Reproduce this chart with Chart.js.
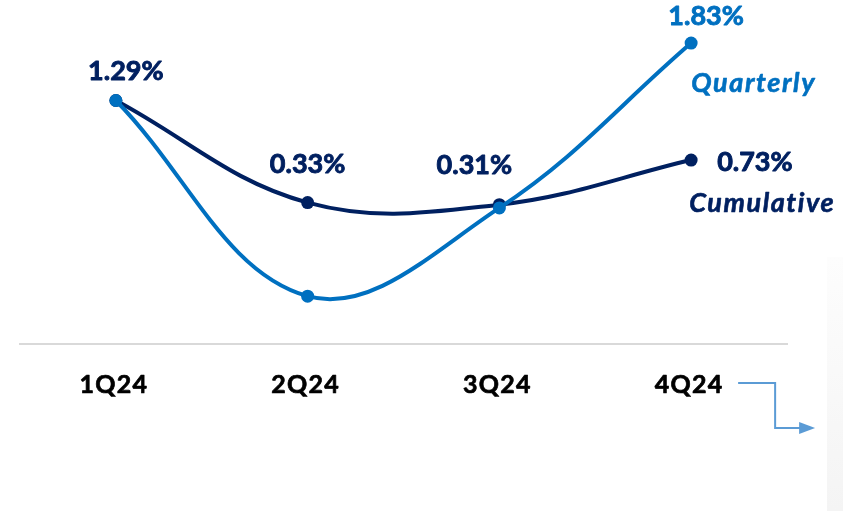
<!DOCTYPE html>
<html><head><meta charset="utf-8">
<script src="https://cdn.jsdelivr.net/npm/chart.js@4"></script>
<style>
html,body{margin:0;padding:0;background:#fff;}
#wrap{position:relative;width:843px;height:511px;overflow:hidden;}
#panel{position:absolute;left:827px;top:257px;width:16px;height:254px;background:linear-gradient(#fdfdfd,#f4f4f4);z-index:0;}
canvas{position:absolute;left:0;top:0;display:block;z-index:1;}
</style>
</head><body>
<div id="wrap"><div id="panel"></div><canvas id="c" width="843" height="511"></canvas></div>
<script>
const categories = ['1Q24', '2Q24', '3Q24', '4Q24'];
const quarterly = [1.29, -0.55, 0.28, 1.83];
const cumulative = [1.29, 0.33, 0.31, 0.73];
const seriesNames = ['Quarterly', 'Cumulative'];

const LIGHT = '#0070C0';
const DARK = '#002060';
const fmt = v => v.toFixed(2) + '%';

function heavyText(ctx, txt, x, y, color, w) {
  ctx.fillStyle = color;
  ctx.strokeStyle = color;
  ctx.lineWidth = w;
  ctx.lineJoin = 'round';
  ctx.fillText(txt, x, y);
  ctx.strokeText(txt, x, y);
}

const labelPlugin = {
  id: 'valueLabels',
  afterDatasetsDraw(chart) {
    const ctx = chart.ctx;
    const q = chart.getDatasetMeta(0).data;
    const c = chart.getDatasetMeta(1).data;
    ctx.save();
    ctx.textBaseline = 'middle';
    ctx.font = 'bold 27px Lato';
    ctx.textAlign = 'center';
    heavyText(ctx, fmt(cumulative[0]), c[0].x + 10, c[0].y - 29, DARK, 0.9);
    heavyText(ctx, fmt(cumulative[1]), c[1].x, c[1].y - 38, DARK, 0.9);
    heavyText(ctx, fmt(cumulative[2]), c[2].x - 25, c[2].y - 39, DARK, 0.9);
    ctx.textAlign = 'left';
    heavyText(ctx, fmt(cumulative[3]), c[3].x + 26, c[3].y + 2, DARK, 0.9);
    ctx.textAlign = 'center';
    heavyText(ctx, fmt(quarterly[3]), q[3].x + 15, q[3].y - 27, LIGHT, 0.9);
    ctx.font = 'italic bold 27px Lato';
    ctx.textAlign = 'left';
    ctx.letterSpacing = '1.6px';
    heavyText(ctx, seriesNames[0], q[3].x, q[3].y + 40, LIGHT, 0.6);
    heavyText(ctx, seriesNames[1], c[3].x - 2, c[3].y + 43, DARK, 0.6);
    ctx.restore();
  },
  afterDraw(chart) {
    const ctx = chart.ctx;
    const xs = chart.scales.x;
    const b = chart.chartArea.bottom;
    ctx.save();
    ctx.font = 'bold 25px Lato';
    ctx.textAlign = 'center';
    ctx.textBaseline = 'middle';
    ctx.letterSpacing = '1.2px';
    categories.forEach((lab, i) => {
      heavyText(ctx, lab, xs.getPixelForValue(i) - 2, b + 41, '#000', 0.7);
    });
    ctx.restore();

    const x0 = xs.getPixelForValue(categories.length - 1);
    ctx.save();
    ctx.strokeStyle = '#5B9BD5';
    ctx.fillStyle = '#5B9BD5';
    ctx.lineWidth = 2;
    ctx.beginPath();
    ctx.moveTo(x0 + 47, b + 39);
    ctx.lineTo(x0 + 84, b + 39);
    ctx.lineTo(x0 + 84, b + 84);
    ctx.lineTo(x0 + 110, b + 84);
    ctx.stroke();
    ctx.beginPath();
    ctx.moveTo(x0 + 108, b + 78);
    ctx.lineTo(x0 + 124, b + 84);
    ctx.lineTo(x0 + 108, b + 90);
    ctx.closePath();
    ctx.fill();
    ctx.restore();
  }
};

new Chart(document.getElementById('c'), {
  type: 'line',
  data: {
    labels: categories,
    datasets: [
      {
        label: seriesNames[0], data: quarterly,
        borderColor: LIGHT, backgroundColor: LIGHT, pointBackgroundColor: LIGHT,
        borderWidth: 4, pointRadius: 6.5, pointBorderWidth: 0, tension: 0.38
      },
      {
        label: seriesNames[1], data: cumulative,
        borderColor: DARK, backgroundColor: DARK, pointBackgroundColor: DARK,
        borderWidth: 4, pointRadius: 6.5, pointBorderWidth: 0, tension: 0.38
      }
    ]
  },
  options: {
    responsive: false,
    animation: false,
    devicePixelRatio: 1,
    layout: { padding: { left: 20, right: 56, top: 25, bottom: 0 } },
    plugins: { legend: { display: false }, tooltip: { enabled: false } },
    scales: {
      x: {
        offset: true,
        grid: { display: false, drawTicks: false },
        border: { display: true, color: '#D9D9D9', width: 2 },
        ticks: { display: false },
        afterFit(s) { s.height = 167; }
      },
      y: { display: false, min: -1, max: 2 }
    }
  },
  plugins: [labelPlugin]
});
</script>
</body></html>
